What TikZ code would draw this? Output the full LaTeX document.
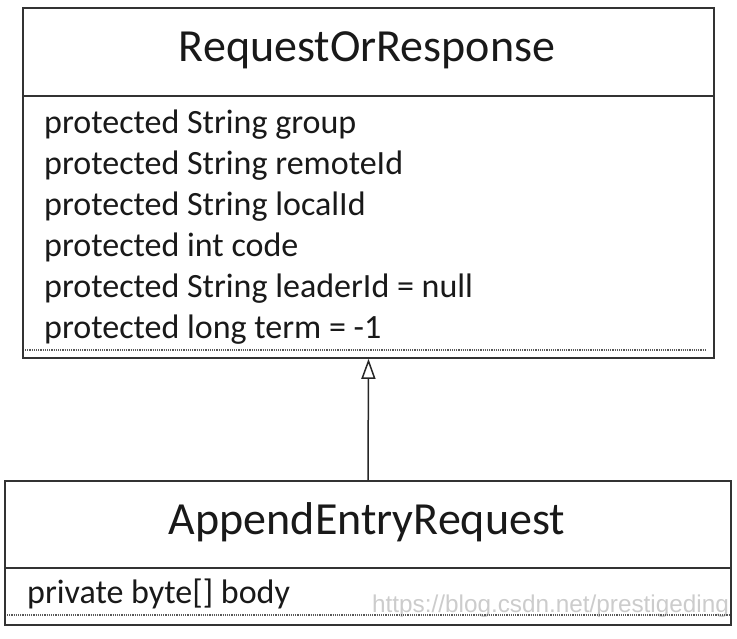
\documentclass[tikz,border=0pt]{standalone}
\usepackage{fontspec}
\setmainfont{Carlito}
\newfontfamily\wmfont{Liberation Sans}
\usetikzlibrary{arrows.meta}
\tikzset{
  classbox/.style={draw=black!80, line width=1.6pt, fill=white, rectangle, inner sep=0pt},
  classname/.style={text=black!90, font=\fontsize{46}{50}\selectfont},
  member/.style={text=black!90, anchor=base west, inner sep=0pt, font=\fontsize{34}{38}\selectfont},
  sepline/.style={draw=black!80, line width=1.4pt},
  endline/.style={draw=black!65, line width=1.6pt, dash pattern=on 1.2pt off 1pt},
  extends/.style={draw=black!85, line width=1.5pt, -{Triangle[open, width=14pt, length=20pt]}}
}
\begin{document}
\begin{tikzpicture}[x=1pt, y=-1pt]
\useasboundingbox (0,0) rectangle (737,639);
% parent class
\node[classbox, minimum width=691pt, minimum height=350pt] (RoR) at (368.5,183) {};
\node[classname] (RoRname) at (367,50) {RequestOrResponse};
\draw[sepline] (23,96) -- (714,96);
\foreach \m [count=\i] in {protected String group, protected String remoteId, protected String localId, protected int code, protected String leaderId = null, protected long term = -1}
  \node[member] (field\i) at (44, 93+41*\i) {\m};
\draw[endline] (25,350) -- (706,350);
% child class
\node[classbox, minimum width=726pt, minimum height=144pt] (AER) at (368,553) {};
\node[classname] (AERname) at (367,522) {AppendEntryRequest};
\draw[sepline] (5,568) -- (731,568);
\node[member] (body) at (27,603) {private byte[] body};
\node[anchor=base west, inner sep=0pt, text=black!20, font=\wmfont\fontsize{24.3}{27}\selectfont] (wm) at (372,612) {https://blog.csdn.net/prestigeding};
\draw[endline] (7,615) -- (729,615);
% inheritance
\draw[extends] (AER.north) -- (RoR.south);
\end{tikzpicture}
\end{document}
